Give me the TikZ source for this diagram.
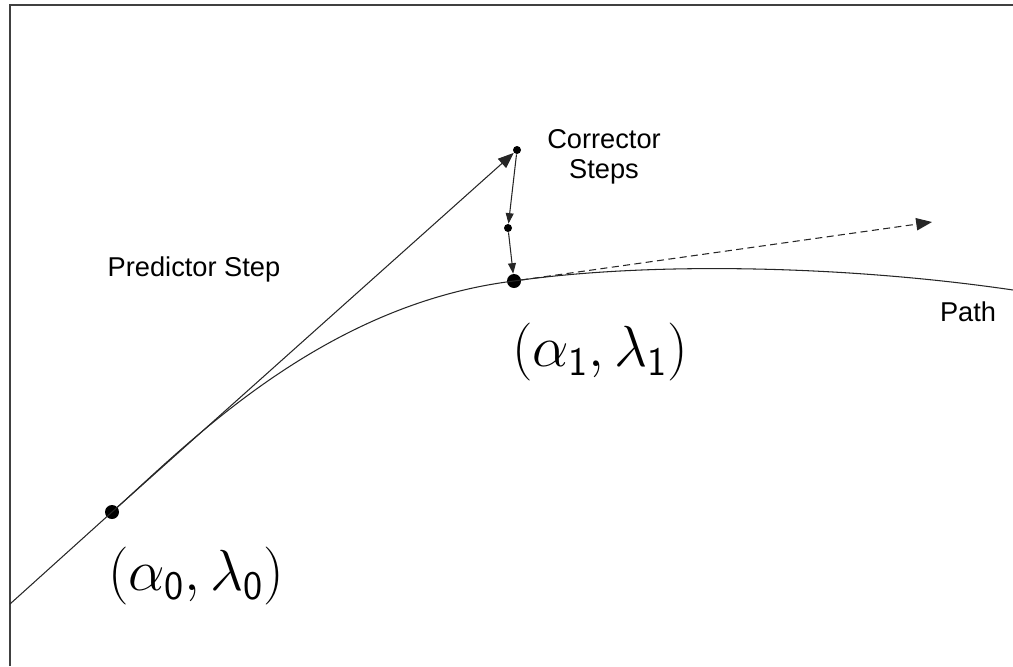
\documentclass[tikz,border=0pt]{standalone}
\usepackage{fix-cm}
\usepackage{fontspec}
\setmainfont{Liberation Sans}
\usetikzlibrary{arrows.meta}
\begin{document}
\begin{tikzpicture}[x=0.02cm,y=-0.02cm,
  ln/.style={line width=0.6pt, draw=black!85},
  bigdot/.style={circle, fill=black, inner sep=0pt, minimum size=14*0.02cm},
  smalldot/.style={circle, fill=black, inner sep=0pt, minimum size=8*0.02cm},
  tip/.style={-{Triangle[length=9pt,width=7pt]}},
  smalltip/.style={-{Triangle[length=6pt,width=4.5pt]}},
  lbl/.style={font=\fontsize{15.5}{17}\selectfont, inner sep=0pt},
  mlbl/.style={font=\fontsize{33}{40}\selectfont, inner sep=0pt}]
\useasboundingbox (0,0) rectangle (1013,666);
% frame
\draw[line width=1pt, draw=black!75] (10,666) -- (10,5) -- (1013,5);
% points
\coordinate (s) at (10,604);
\coordinate (e) at (1013,290);
\node[bigdot] (p0) at (112,512) {};
\node[bigdot] (p1) at (514,281) {};
\node[smalldot] (c0) at (517,150) {};
\node[smalldot] (c1) at (508,228) {};
\coordinate (t) at (932,222);
% path curve
\draw[ln] (s) -- (p0.center) .. controls (185,447) and (320,305) .. (p1.center)
  .. controls (654,261) and (850,266) .. (e);
% predictor
\draw[ln, tip] (p0) -- (c0);
% corrector
\draw[ln, smalltip] (c0) -- (c1);
\draw[ln, smalltip] (c1) -- (p1);
% tangent
\draw[ln, dashed, dash pattern=on 4pt off 2.5pt, tip] (p1) -- (t);
% labels
\node[lbl] (lp) at (194,269) {Predictor Step};
\node[lbl, align=center] (lc) at (604,157) {Corrector\\Steps};
\node[lbl] (lpath) at (968,312) {Path};
\node[mlbl] (l0) at (196,576) {$(\alpha_{\mathsf{0}},\lambda_{\mathsf{0}})$};
\node[mlbl] (l1) at (600,352) {$(\alpha_{\mathsf{1}},\lambda_{\mathsf{1}})$};
\end{tikzpicture}
\end{document}
